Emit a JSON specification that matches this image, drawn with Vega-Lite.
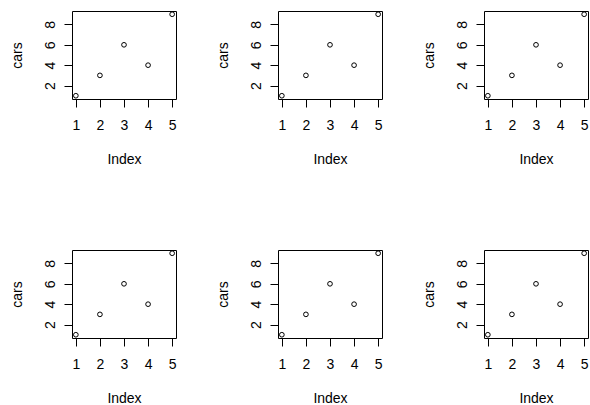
{
  "$schema": "https://vega.github.io/schema/vega-lite/v6.json",
  "autosize": {"type": "pad"},
  "padding": {"left": 9, "top": 9, "right": 0, "bottom": 0},
  "background": "white",
  "data": {"values": [
    {"Index": 1, "cars": 1}, {"Index": 2, "cars": 3}, {"Index": 3, "cars": 6}, {"Index": 4, "cars": 4}, {"Index": 5, "cars": 9}
  ]},
  "columns": 3,
  "spacing": {"row": 151, "column": 102},
  "bounds": "flush",
  "concat": [
    {"width": 104, "height": 88, "mark": {"type": "point", "filled": false, "color": "black", "size": 22, "strokeWidth": 1, "opacity": 1},
     "encoding": {
      "x": {"field": "Index", "type": "quantitative", "scale": {"domain": [0.84, 5.16], "nice": false, "zero": false}, "axis": {"values": [1, 2, 3, 4, 5], "title": "Index"}},
      "y": {"field": "cars", "type": "quantitative", "scale": {"domain": [0.68, 9.32], "nice": false, "zero": false}, "axis": {"values": [2, 4, 6, 8], "title": "cars"}}}},
    {"width": 104, "height": 88, "mark": {"type": "point", "filled": false, "color": "black", "size": 22, "strokeWidth": 1, "opacity": 1},
     "encoding": {
      "x": {"field": "Index", "type": "quantitative", "scale": {"domain": [0.84, 5.16], "nice": false, "zero": false}, "axis": {"values": [1, 2, 3, 4, 5], "title": "Index"}},
      "y": {"field": "cars", "type": "quantitative", "scale": {"domain": [0.68, 9.32], "nice": false, "zero": false}, "axis": {"values": [2, 4, 6, 8], "title": "cars"}}}},
    {"width": 104, "height": 88, "mark": {"type": "point", "filled": false, "color": "black", "size": 22, "strokeWidth": 1, "opacity": 1},
     "encoding": {
      "x": {"field": "Index", "type": "quantitative", "scale": {"domain": [0.84, 5.16], "nice": false, "zero": false}, "axis": {"values": [1, 2, 3, 4, 5], "title": "Index"}},
      "y": {"field": "cars", "type": "quantitative", "scale": {"domain": [0.68, 9.32], "nice": false, "zero": false}, "axis": {"values": [2, 4, 6, 8], "title": "cars"}}}},
    {"width": 104, "height": 88, "mark": {"type": "point", "filled": false, "color": "black", "size": 22, "strokeWidth": 1, "opacity": 1},
     "encoding": {
      "x": {"field": "Index", "type": "quantitative", "scale": {"domain": [0.84, 5.16], "nice": false, "zero": false}, "axis": {"values": [1, 2, 3, 4, 5], "title": "Index"}},
      "y": {"field": "cars", "type": "quantitative", "scale": {"domain": [0.68, 9.32], "nice": false, "zero": false}, "axis": {"values": [2, 4, 6, 8], "title": "cars"}}}},
    {"width": 104, "height": 88, "mark": {"type": "point", "filled": false, "color": "black", "size": 22, "strokeWidth": 1, "opacity": 1},
     "encoding": {
      "x": {"field": "Index", "type": "quantitative", "scale": {"domain": [0.84, 5.16], "nice": false, "zero": false}, "axis": {"values": [1, 2, 3, 4, 5], "title": "Index"}},
      "y": {"field": "cars", "type": "quantitative", "scale": {"domain": [0.68, 9.32], "nice": false, "zero": false}, "axis": {"values": [2, 4, 6, 8], "title": "cars"}}}},
    {"width": 104, "height": 88, "mark": {"type": "point", "filled": false, "color": "black", "size": 22, "strokeWidth": 1, "opacity": 1},
     "encoding": {
      "x": {"field": "Index", "type": "quantitative", "scale": {"domain": [0.84, 5.16], "nice": false, "zero": false}, "axis": {"values": [1, 2, 3, 4, 5], "title": "Index"}},
      "y": {"field": "cars", "type": "quantitative", "scale": {"domain": [0.68, 9.32], "nice": false, "zero": false}, "axis": {"values": [2, 4, 6, 8], "title": "cars"}}}}
  ],
  "config": {
    "view": {"stroke": "black", "strokeWidth": 1},
    "axis": {
      "domain": false, "grid": false,
      "tickColor": "black", "tickSize": 8, "tickWidth": 1,
      "labelFont": "Liberation Sans", "labelFontSize": 14, "labelColor": "black",
      "titleFont": "Liberation Sans", "titleFontSize": 14, "titleFontWeight": "normal", "titleColor": "black",
      "labelFlush": false, "labelOverlap": false
    },
    "axisX": {"labelPadding": 11, "titlePadding": 20, "labelBaseline": "top"},
    "axisY": {"labelAngle": -90, "labelAlign": "center", "labelBaseline": "alphabetic", "labelPadding": 10, "titlePadding": 19}
  }
}
